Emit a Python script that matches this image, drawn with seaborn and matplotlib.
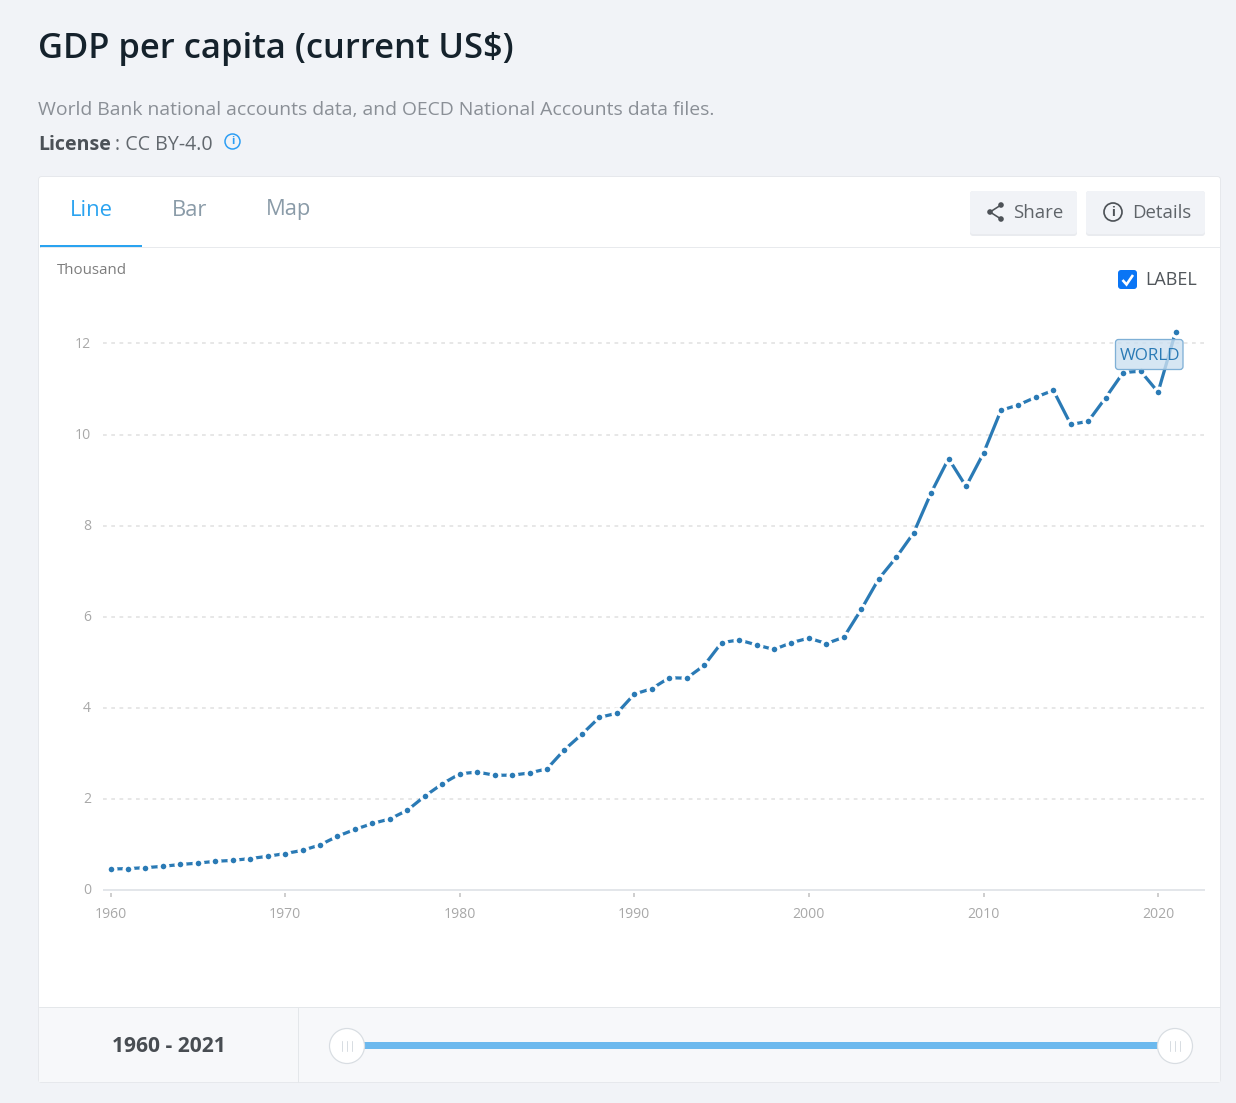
import pandas as pd
import seaborn as sns
import matplotlib.pyplot as plt
from matplotlib.patches import FancyBboxPatch, Rectangle, Circle
from matplotlib.transforms import ScaledTranslation

years = list(range(1960, 2022))
gdp_thousand = [
    0.46, 0.47, 0.49, 0.52, 0.56, 0.59, 0.63, 0.65, 0.69, 0.74,
    0.80, 0.87, 0.99, 1.18, 1.33, 1.46, 1.56, 1.75, 2.06, 2.33,
    2.55, 2.59, 2.52, 2.52, 2.57, 2.66, 3.08, 3.42, 3.79, 3.88,
    4.30, 4.42, 4.66, 4.65, 4.93, 5.43, 5.49, 5.38, 5.28, 5.43,
    5.53, 5.41, 5.55, 6.16, 6.83, 7.30, 7.84, 8.72, 9.47, 8.86,
    9.59, 10.53, 10.65, 10.82, 10.97, 10.22, 10.29, 10.81, 11.36, 11.39,
    10.93, 12.25,
]
xTicks = [1960, 1970, 1980, 1990, 2000, 2010, 2020]
yTicks = [0, 2, 4, 6, 8, 10, 12]

W, H = 1236, 1103
BG = "#f1f3f7"
LINE = "#2a7ab5"
PX = 0.72  # one screen pixel in points at dpi 100

sns.set_theme(style="white")
plt.rcParams["font.family"] = ["Open Sans", "DejaVu Sans"]

fig = plt.figure(figsize=(W / 100, H / 100), dpi=100, facecolor=BG)

# page chrome, drawn in pixel coordinates
ui = fig.add_axes([0, 0, 1, 1])
ui.set_xlim(0, W)
ui.set_ylim(H, 0)
ui.axis("off")

ui.add_patch(FancyBboxPatch((38.5, 176.5), 1182, 906, boxstyle="round,pad=0,rounding_size=3",
                            fc="white", ec="#e6e8ec", lw=1 * PX))
ui.add_patch(Rectangle((39, 1007), 1181, 75, fc="#f7f8fa", ec="none"))
ui.plot([39, 1220], [1007, 1007], color="#e4e7ea", lw=1 * PX)
ui.plot([298, 298], [1007, 1082], color="#e4e7ea", lw=1 * PX)
ui.plot([40, 1220], [247, 247], color="#e8eaed", lw=1 * PX)
ui.add_patch(Rectangle((40, 245), 102, 3, fc="#2aa3f0", ec="none"))

ui.text(38, 49, "GDP per capita (current US$)", fontsize=34.5 * PX, fontweight=600,
        color="#15222c", va="center")
ui.text(38, 110, "World Bank national accounts data, and OECD National Accounts data files.",
        fontsize=19.4 * PX, color="#8a8f96", va="center")
ui.text(38, 144.5, "License", fontsize=19.6 * PX, fontweight="bold", color="#4b5157", va="center")
ui.text(115, 144.5, ": CC BY-4.0", fontsize=19.6 * PX, color="#62686e", va="center")
ui.add_patch(Circle((232.5, 141.5), 7.5, fc="none", ec="#2a9df4", lw=1.5 * PX))
ui.text(232.5, 141.5, "i", fontsize=11 * PX, fontweight="bold", color="#2a9df4",
        ha="center", va="center")

ui.text(91, 210, "Line", fontsize=22 * PX, fontweight=500, color="#2aa3f0", ha="center", va="center")
ui.text(189.5, 210, "Bar", fontsize=22 * PX, color="#8a9ba8", ha="center", va="center")
ui.text(288.5, 210, "Map", fontsize=22 * PX, color="#8a9ba8", ha="center", va="center")

for left, width in [(970, 107), (1086, 119)]:
    ui.add_patch(FancyBboxPatch((left, 191), width, 45, boxstyle="round,pad=0,rounding_size=3",
                                fc="#e9ebef", ec="none"))
    ui.add_patch(FancyBboxPatch((left, 191), width, 43, boxstyle="round,pad=0,rounding_size=3",
                                fc=BG, ec="none"))

# share icon
ui.plot([1001, 990, 1001], [205, 212, 219], color="#4d5257", lw=1.6 * PX)
for cx, cy in [(1001, 205), (990, 212), (1001, 219)]:
    ui.add_patch(Circle((cx, cy), 2.8, fc="#4d5257", ec="none"))
ui.text(1013.5, 213, "Share", fontsize=18.7 * PX, color="#5f6469", va="center")

# details icon
ui.add_patch(Circle((1113, 212), 9, fc="none", ec="#4d5257", lw=1.7 * PX))
ui.text(1113, 212, "i", fontsize=13 * PX, fontweight="bold", color="#4d5257", ha="center", va="center")
ui.text(1132.5, 213, "Details", fontsize=18.7 * PX, color="#5f6469", va="center")

# LABEL checkbox
ui.add_patch(FancyBboxPatch((1118, 270), 19, 19, boxstyle="round,pad=0,rounding_size=3",
                            fc="#0a75f5", ec="none"))
ui.plot([1122.5, 1126.5, 1133], [280, 284.5, 275], color="white", lw=2.6 * PX,
        solid_capstyle="butt", solid_joinstyle="miter")
ui.text(1145.5, 280, "LABEL", fontsize=18 * PX, color="#51565b", va="center")

ui.text(57, 271, "Thousand", fontsize=15 * PX, color="#7d7d7d", va="center")

# range slider
ui.text(168.5, 1047, "1960 - 2021", fontsize=21 * PX, fontweight="bold", color="#484d52",
        ha="center", va="center")
ui.add_patch(Rectangle((360, 1042), 802, 7, fc="#6cb9ee", ec="none"))
for cx in [347, 1175]:
    ui.add_patch(Circle((cx, 1046), 17.5, fc="white", ec="#d8dde2", lw=1.2 * PX, zorder=3))
    for dx in [-5, 0, 5]:
        ui.plot([cx + dx, cx + dx], [1041, 1051], color="#d8dde2", lw=1 * PX, zorder=4)

# chart area: 103..1205 px wide, 300..893 px tall
ax = fig.add_axes([103 / W, 1 - 893 / H, (1205 - 103) / W, (893 - 300) / H])
ax.patch.set_alpha(0)

df = pd.DataFrame({"year": years, "gdp": gdp_thousand})
sns.lineplot(data=df, x="year", y="gdp", ax=ax, color=LINE, linewidth=3.2 * PX, marker="o",
             markersize=8.8 * PX, markeredgecolor="white", markeredgewidth=3.2 * PX,
             errorbar=None, zorder=5)

ax.set_xlim(1960 - 7.5 / 17.46, 1960 + 1094.5 / 17.46)
ax.set_ylim(-3 / 45.55, 590 / 45.55)
ax.set_xticks(xTicks)
ax.set_yticks(yTicks)
ax.set_xlabel("")
ax.set_ylabel("")
for s in ax.spines.values():
    s.set_visible(False)
ax.tick_params(axis="x", bottom=True, length=4 * PX, width=2 * PX, color="#cfcfcf",
               labelsize=14 * PX, labelcolor="#a8a8a8", pad=10 * PX)
ax.tick_params(axis="y", left=False, length=0, labelsize=14 * PX, labelcolor="#a8a8a8", pad=12 * PX)

# nudge the y labels to sit on the gridlines like the reference
nudge = ScaledTranslation(0, 1 / 100, fig.dpi_scale_trans)
for lab in ax.get_yticklabels():
    lab.set_transform(lab.get_transform() + nudge)

for y in yTicks[1:]:
    ax.axhline(y, color="#e0e0e0", lw=1.5 * PX, ls=(0, (2.5, 3)), zorder=1)
ax.axhline(0, color="#e3e6ea", lw=2 * PX, zorder=2)

# WORLD tag on top of the line
ax.add_patch(FancyBboxPatch((1115.5, 339.5), 67.5, 30, boxstyle="round,pad=0,rounding_size=3",
                            fc=(0.80, 0.88, 0.94, 0.8), ec="#7fb0d6", lw=1.3 * PX,
                            transform=ui.transData, clip_on=False, zorder=6))
ax.annotate("WORLD", xy=(years[-1], gdp_thousand[-1]), xytext=(-25.5 * PX, -24 * PX),
            textcoords="offset points", ha="center", va="center", fontsize=17 * PX, color=LINE,
            zorder=7)

fig.savefig("out.png", dpi=100, facecolor=BG)
plt.close()
